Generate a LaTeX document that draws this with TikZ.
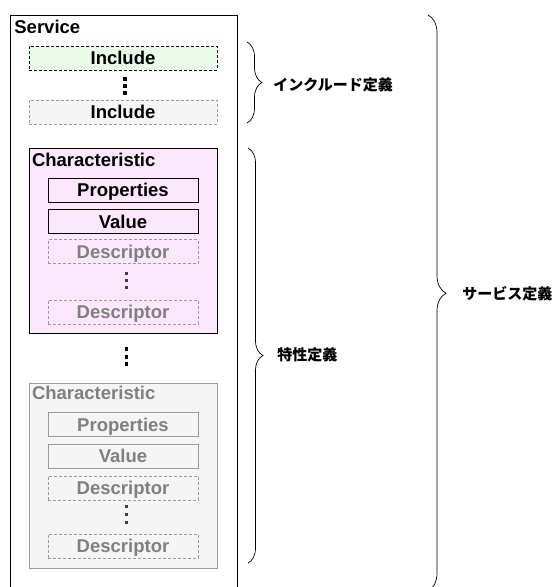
\documentclass[tikz,border=0pt]{standalone}
\usepackage{fontspec}
\setmainfont{Liberation Sans}
\newfontfamily\jpfont{Noto Sans CJK JP}
\usetikzlibrary{positioning,decorations.pathreplacing}
\definecolor{incgreen}{RGB}{233,251,233}
\definecolor{charpink}{RGB}{252,232,252}
\definecolor{offgray}{RGB}{245,245,245}
\definecolor{txtgray}{RGB}{128,128,128}
\definecolor{lngray}{RGB}{155,155,155}

\begin{document}
\begin{tikzpicture}[
x=1pt,y=-1pt,
line width=0.8pt,
font=\fontsize{18.5}{20}\selectfont\bfseries,
node distance=6pt,
svcbox/.style={draw,minimum width=227pt,minimum height=590pt,inner sep=0pt},
incbox/.style={draw,dash pattern=on 3pt off 2pt,minimum width=188pt,minimum height=24pt,inner sep=0pt,text height=13pt,text depth=0pt},
charbox/.style={draw,minimum width=188pt,minimum height=185pt,inner sep=0pt},
fieldbox/.style={draw,minimum width=150pt,minimum height=24pt,inner sep=0pt,text height=13pt,text depth=0pt},
descbox/.style={fieldbox,dash pattern=on 3pt off 2pt,draw=lngray,text=txtgray},
title/.style={anchor=base west,inner sep=0pt},
brc/.style={decorate,decoration={brace,amplitude=#1},line width=0.7pt},
jplabel/.style={anchor=west,inner sep=0pt,font=\jpfont\fontsize{15}{16}\selectfont\bfseries},
dotsq/.style={fill=black},
dotsm/.style={fill=black!75}
]
\useasboundingbox (0,0) rectangle (557,587);

% service
\node[svcbox] (svc) at (123.5,310) {};
\node[title] (svctitle) at (14,33) {Service};

% includes
\node[incbox,fill=incgreen] (inc1) at (123,58) {Include};
\node[incbox,draw=lngray,fill=offgray] (inc2) at (123,112) {Include};
\foreach \y in {77,84,91}
  \fill[dotsq] (123,\y) rectangle +(3.5,3.5);

% characteristic 1
\node[charbox,fill=charpink] (char1) at (123,240.5) {};
\node[title] (ctitle1) at ([xshift=3pt,yshift=-19pt]char1.north west) {Characteristic};
\node[fieldbox,fill=charpink] (prop1) at (123,190) {Properties};
\node[fieldbox,fill=charpink,below=7pt of prop1] (val1) {Value};
\node[descbox,below=5pt of val1] (desc1a) {Descriptor};
\node[descbox] (desc1b) at (123,312) {Descriptor};
\foreach \y in {272,279,286}
  \fill[dotsm] (125,\y) rectangle +(2.5,2.5);

\foreach \y in {347,355,362}
  \fill[dotsq] (124.5,\y) rectangle +(3.5,3.5);

% characteristic 2
\node[charbox,draw=lngray,fill=offgray] (char2) at (123,475.5) {};
\node[title,text=txtgray] (ctitle2) at ([xshift=3pt,yshift=-17pt]char2.north west) {Characteristic};
\node[fieldbox,draw=lngray,text=txtgray] (prop2) at (123,424.5) {Properties};
\node[fieldbox,draw=lngray,text=txtgray,below=7pt of prop2] (val2) {Value};
\node[descbox,below=7pt of val2] (desc2a) {Descriptor};
\node[descbox] (desc2b) at (123,546) {Descriptor};
\foreach \y in {505,513,521}
  \fill[dotsm] (125,\y) rectangle +(2.5,2.5);

% braces
\coordinate (bincT) at (247,42);
\coordinate (bincB) at (247,123);
\coordinate (bcharT) at (248,148);
\coordinate (bcharB) at (248,563);
\coordinate (bsvcT) at (428,15);
\coordinate (bsvcB) at (428,591);
\draw[brc=15pt] (bincT) -- (bincB);
\draw[brc=15pt] (bcharT) -- (bcharB);
\draw[brc=18pt,decoration={aspect=0.483}] (bsvcT) -- (bsvcB);
\node[jplabel] (lblinc) at (273,85) {インクルード定義};
\node[jplabel] (lblchar) at (277,355) {特性定義};
\node[jplabel] (lblsvc) at (462,294) {サービス定義};
\end{tikzpicture}
\end{document}
